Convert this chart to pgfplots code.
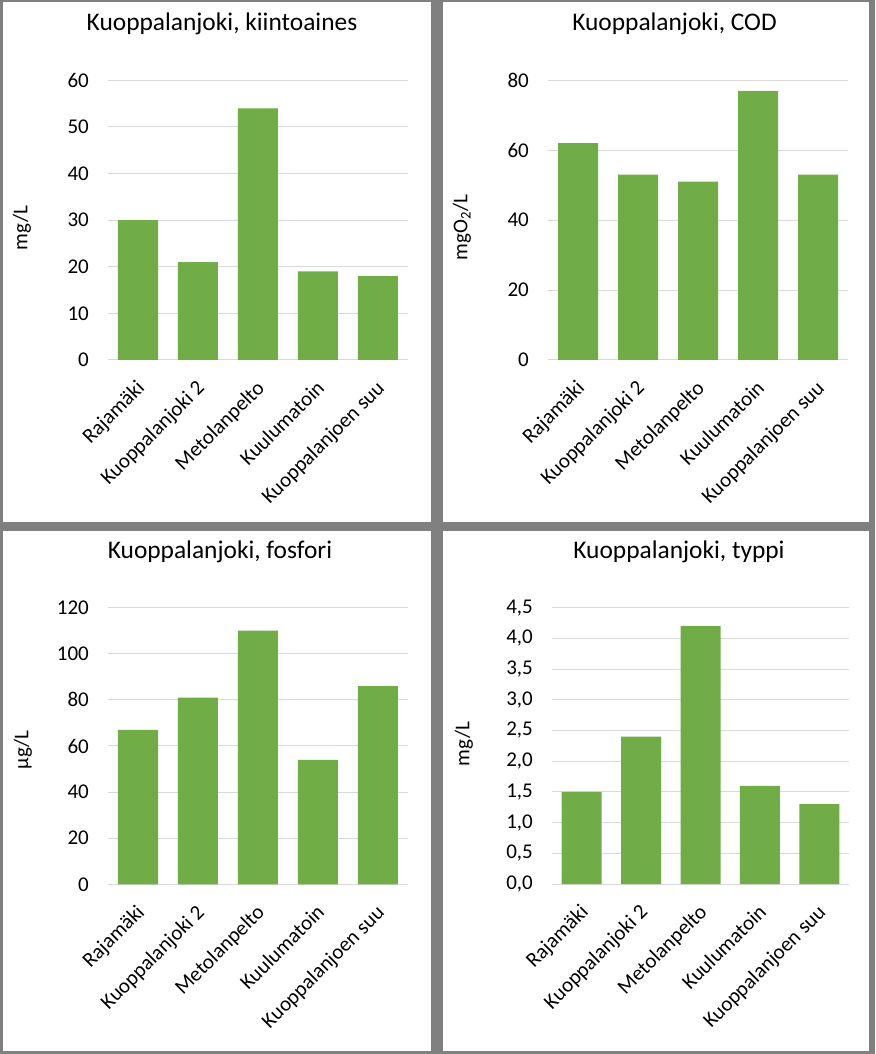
\documentclass[border=0pt]{standalone}
\usepackage{fontspec}
\setmainfont{Carlito}
\usepackage{pgfplots}
\pgfplotsset{compat=1.18}
\pgfplotsset{/pgf/number format/assume math mode=true}
\definecolor{bargreen}{HTML}{70AD47}
\definecolor{gridgray}{HTML}{D9D9D9}
\definecolor{bggray}{HTML}{808080}
\pgfplotsset{
  panel/.style={
    scale only axis, width=300pt,
    ybar, bar width=40pt,
    xmin=-0.5, xmax=4.5, ymin=0,
    xtick={0,1,2,3,4},
    xticklabels={Rajamäki, Kuoppalanjoki 2, Metolanpelto, Kuulumatoin, Kuoppalanjoen suu},
    axis line style={draw=none},
    major tick length=0pt,
    ymajorgrids, grid style={draw=gridgray, line width=1pt},
    tick label style={font=\fontsize{21}{25}\selectfont, text=black},
    xticklabel style={rotate=45, anchor=north east, inner sep=0pt, xshift=-4pt},
    xticklabel shift=16pt,
    yticklabel style={anchor=east, inner sep=0pt},
    yticklabel shift=19pt,
    clip=false,
  },
  ttl/.style n args={3}{every axis title/.style={at={(rel axis cs:0.5,1)}, anchor=base, font=\fontsize{25.4}{30}\selectfont, xshift=#1, yshift=#2}, title={#3}},
  ylab/.style n args={3}{every axis y label/.style={at={([xshift=#1]rel axis cs:0,#2)}, rotate=90, anchor=center, font=\fontsize{21}{25}\selectfont}, ylabel={#3}},
}
\begin{document}
\begin{tikzpicture}
\useasboundingbox (0pt,0pt) rectangle (875pt,1054pt);
\fill[bggray] (0pt,0pt) rectangle (875pt,1054pt);
\fill[white] (3pt,532pt) rectangle (431pt,1052pt);
\fill[white] (443pt,532pt) rectangle (869pt,1052pt);
\fill[white] (3pt,3pt) rectangle (431pt,523pt);
\fill[white] (443pt,3pt) rectangle (869pt,523pt);

\begin{axis}[panel, at={(108pt,694pt)}, anchor=south west, height=279.7pt,
  ymax=60, ytick={0,10,20,30,40,50,60},
  ttl={-36pt}{49.6pt}{Kuoppalanjoki, kiintoaines},
  ylab={-86pt}{0.472}{mg/L}]
\addplot[fill=bargreen, draw=none] coordinates {(0,30) (1,21) (2,54) (3,19) (4,18)};
\end{axis}

\begin{axis}[panel, at={(548pt,694pt)}, anchor=south west, height=279.7pt,
  ymax=80, ytick={0,20,40,60,80},
  ttl={-23.5pt}{49.6pt}{Kuoppalanjoki, COD},
  ylab={-86pt}{0.474}{mgO\textsubscript{2}/L}]
\addplot[fill=bargreen, draw=none] coordinates {(0,62) (1,53) (2,51) (3,77) (4,53)};
\end{axis}

\begin{axis}[panel, at={(108pt,169.7pt)}, anchor=south west, height=276.6pt,
  ymax=120, ytick={0,20,40,60,80,100,120},
  ttl={-38pt}{48.7pt}{Kuoppalanjoki, fosfori},
  ylab={-85pt}{0.486}{µg/L}]
\addplot[fill=bargreen, draw=none] coordinates {(0,67) (1,81) (2,110) (3,54) (4,86)};
\end{axis}

\begin{axis}[panel, at={(552pt,170pt)}, anchor=south west, width=297pt, height=276.3pt,
  ymax=4.5, ytick={0,0.5,1,1.5,2,2.5,3,3.5,4,4.5},
  yticklabel style={/pgf/number format/.cd, fixed, fixed zerofill, precision=1, use comma},
  ttl={-21.5pt}{48.7pt}{Kuoppalanjoki, typpi},
  ylab={-88pt}{0.507}{mg/L}]
\addplot[fill=bargreen, draw=none] coordinates {(0,1.5) (1,2.4) (2,4.2) (3,1.6) (4,1.3)};
\end{axis}
\end{tikzpicture}
\end{document}
